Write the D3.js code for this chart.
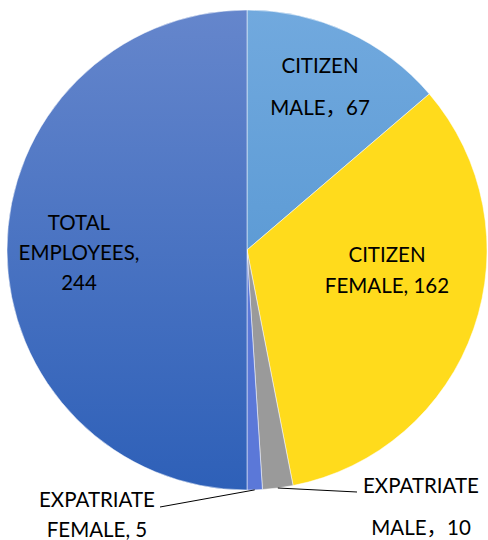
<!DOCTYPE html>
<html>
<head>
<meta charset="utf-8">
<script src="https://cdn.jsdelivr.net/npm/d3@7"></script>
<style>
  html, body { margin: 0; padding: 0; background: #ffffff; }
  svg { display: block; }
  text { font-family: Lato, "Noto Sans CJK SC", sans-serif; fill: #000; }
</style>
</head>
<body>
<svg id="chart" width="488" height="540"></svg>
<script>
// ---- data ----
const categories = ["CITIZEN MALE", "CITIZEN FEMALE", "EXPATRIATE MALE", "EXPATRIATE FEMALE", "TOTAL EMPLOYEES"];
const values = [67, 162, 10, 5, 244];
const labelLines = [
  ["CITIZEN", "MALE\uFF0C67"],
  ["CITIZEN", "FEMALE, 162"],
  ["EXPATRIATE", "MALE\uFF0C10"],
  ["EXPATRIATE", "FEMALE, 5"],
  ["TOTAL", "EMPLOYEES,", "244"]
];

// ---- styles / layout ----
const colorsTop = ["#71a9de", "#ffdb1c", "#9a9a9a", "#5b78d8", "#6586cc"];
const colorsBottom = ["#4a8ecd", "#ffdb1c", "#9a9a9a", "#5b78d8", "#2e60b8"];
const cx = 247, cy = 250, R = 240;
// label block anchor (x centre, first baseline) relative to pie centre, plus line spacing
const labelLayout = [
  {dx: 73, dy: -177, lh: 42, leader: false},
  {dx: 140, dy: 12, lh: 31, leader: false},
  {dx: 174, dy: 243, lh: 42, leader: true, lx: 110, ly: 242},
  {dx: -150, dy: 257, lh: 30, leader: true, lx: -87, ly: 257},
  {dx: -168, dy: -20, lh: 30, leader: false}
];

const svg = d3.select("#chart");
const defs = svg.append("defs");
colorsTop.forEach((c, i) => {
  const g = defs.append("linearGradient")
    .attr("id", "grad" + i)
    .attr("gradientUnits", "userSpaceOnUse")
    .attr("x1", 0).attr("y1", -R).attr("x2", 0).attr("y2", R);
  g.append("stop").attr("offset", "0%").attr("stop-color", c);
  g.append("stop").attr("offset", "100%").attr("stop-color", colorsBottom[i]);
});

const pie = d3.pie().sort(null).value(d => d)(values);
const arc = d3.arc().innerRadius(0).outerRadius(R);

const g = svg.append("g").attr("transform", `translate(${cx},${cy})`);

g.selectAll("path.slice")
  .data(pie)
  .join("path")
  .attr("class", "slice")
  .attr("d", arc)
  .attr("fill", (d, i) => `url(#grad${i})`)
  .attr("stroke", "rgba(255,255,255,0.5)")
  .attr("stroke-width", 1);

// leader lines
pie.forEach((d, i) => {
  const L = labelLayout[i];
  if (!L.leader) return;
  const mid = (d.startAngle + d.endAngle) / 2;
  const px = R * Math.sin(mid), py = -R * Math.cos(mid);
  g.append("polyline")
    .attr("points", `${px},${py} ${L.lx},${L.ly}`)
    .attr("fill", "none")
    .attr("stroke", "#000")
    .attr("stroke-width", 1);
});

// labels
pie.forEach((d, i) => {
  const L = labelLayout[i];
  const t = g.append("text")
    .attr("font-size", 20.5)
    .attr("text-anchor", "middle")
    .attr("x", L.dx)
    .attr("y", L.dy);
  labelLines[i].forEach((line, k) => {
    t.append("tspan")
      .attr("x", L.dx)
      .attr("y", L.dy + k * L.lh)
      .text(line);
  });
});
</script>
</body>
</html>
